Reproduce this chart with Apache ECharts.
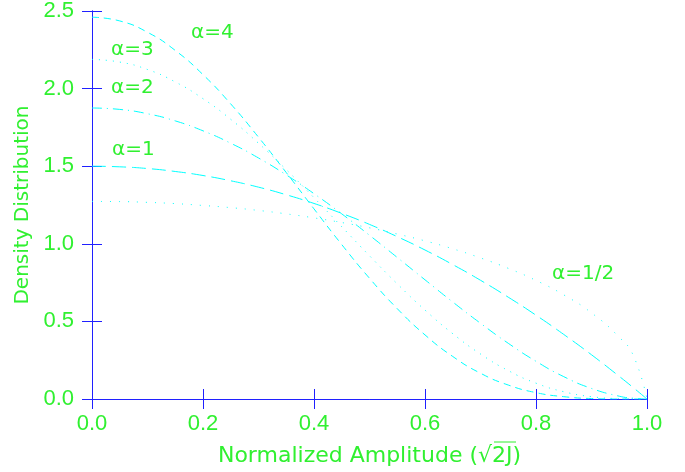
<!DOCTYPE html>
<html>
<head>
<meta charset="utf-8">
<script src="https://cdn.jsdelivr.net/npm/echarts@6/dist/echarts.min.js"></script>
<style>
  html, body { margin: 0; padding: 0; background: #fff; }
  #chart { width: 685px; height: 472px; }
</style>
</head>
<body>
<div id="chart"></div>
<script>
// normalized amplitude
const amp = [0, 0.05, 0.1, 0.15, 0.2, 0.25, 0.3, 0.35, 0.4, 0.45, 0.5,
  0.55, 0.6, 0.65, 0.7, 0.75, 0.8, 0.85, 0.9, 0.95, 0.975, 1.0];

// density
const alphaHalf = [1.273, 1.272, 1.267, 1.259, 1.247, 1.233, 1.215, 1.193, 1.167, 1.137, 1.103,
  1.063, 1.019, 0.968, 0.909, 0.842, 0.764, 0.671, 0.555, 0.398, 0.283, 0.0];
const alpha1 = [1.5, 1.496, 1.485, 1.466, 1.44, 1.406, 1.365, 1.316, 1.26, 1.196, 1.125,
  1.046, 0.96, 0.866, 0.765, 0.656, 0.54, 0.416, 0.285, 0.146, 0.074, 0.0];
const alpha2 = [1.875, 1.866, 1.838, 1.792, 1.728, 1.648, 1.553, 1.444, 1.323, 1.193, 1.055,
  0.912, 0.768, 0.625, 0.488, 0.359, 0.243, 0.144, 0.068, 0.018, 0.005, 0.0];
const alpha3 = [2.188, 2.171, 2.123, 2.043, 1.935, 1.802, 1.648, 1.478, 1.297, 1.110, 0.923,
  0.742, 0.573, 0.421, 0.290, 0.183, 0.102, 0.047, 0.015, 0.002, 0.0, 0.0];
const alpha4 = [2.460, 2.436, 2.363, 2.246, 2.090, 1.901, 1.687, 1.459, 1.225, 0.995, 0.778,
  0.582, 0.413, 0.274, 0.166, 0.090, 0.041, 0.015, 0.003, 0.0, 0.0, 0.0];

const labels = ['α=1/2', 'α=1', 'α=2', 'α=3', 'α=4'];

const green = '#30f030';
const blue = '#2020ff';
const cyan = '#00ffff';
const tickFont = 'Liberation Sans';
const textFont = 'DejaVu Sans';

const chart = echarts.init(document.getElementById('chart'));

const pairs = (ys) => amp.map((x, i) => [x, ys[i]]);

const mkSeries = (name, ys, dash) => ({
  name: name,
  type: 'line',
  smooth: true,
  showSymbol: false,
  xAxisIndex: 0,
  yAxisIndex: 0,
  lineStyle: { color: cyan, width: 1, type: dash },
  data: pairs(ys),
});

// shared axis look
const axisBase = {
  axisLine: { show: true, lineStyle: { color: blue, width: 1 } },
  axisTick: { show: true, inside: false, length: 10, lineStyle: { color: blue } },
  splitLine: { show: false },
};

const option = {
  animation: false,
  grid: { left: 92, right: 38, top: 11, bottom: 72 },
  xAxis: [
    {
      ...axisBase,
      type: 'value', position: 'bottom', min: 0, max: 1, interval: 0.2,
      axisLabel: { color: green, fontFamily: tickFont, fontSize: 22, margin: 14,
        formatter: (v) => v.toFixed(1) },
      name: 'Normalized Amplitude (√2J)',
      nameLocation: 'middle', nameGap: 46,
      nameTextStyle: { color: green, fontFamily: textFont, fontSize: 22 },
    },
    {
      ...axisBase,
      type: 'value', position: 'top', min: 0, max: 1, interval: 0.2,
      axisLabel: { show: false },
    },
  ],
  yAxis: [
    {
      ...axisBase,
      type: 'value', position: 'left', min: 0, max: 2.5, interval: 0.5,
      axisLabel: { color: green, fontFamily: tickFont, fontSize: 22, margin: 18,
        formatter: (v) => v.toFixed(1) },
      name: 'Density Distribution',
      nameLocation: 'middle', nameGap: 54,
      nameTextStyle: { color: green, fontFamily: textFont, fontSize: 20 },
    },
    {
      ...axisBase,
      type: 'value', position: 'right', min: 0, max: 2.5, interval: 0.5,
      axisLabel: { show: false },
    },
  ],
  series: [
    mkSeries(labels[0], alphaHalf, [1, 8]),
    mkSeries(labels[1], alpha1, [14, 6]),
    mkSeries(labels[2], alpha2, [10, 5, 1, 5]),
    mkSeries(labels[3], alpha3, [1, 6]),
    mkSeries(labels[4], alpha4, [7, 5]),
  ],
  graphic: [
    { type: 'text', left: 191, top: 23, style: { text: labels[4], fill: green, font: '20px ' + textFont } },
    { type: 'text', left: 111, top: 40, style: { text: labels[3], fill: green, font: '20px ' + textFont } },
    { type: 'text', left: 111, top: 78, style: { text: labels[2], fill: green, font: '20px ' + textFont } },
    { type: 'text', left: 112, top: 140, style: { text: labels[1], fill: green, font: '20px ' + textFont } },
    { type: 'text', left: 552, top: 264, style: { text: labels[0], fill: green, font: '20px ' + textFont } },
    // overline of the square root sign over "2J"
    { type: 'line', shape: { x1: 494, y1: 442, x2: 516, y2: 442 }, style: { stroke: green, lineWidth: 1 } },
  ],
};

chart.setOption(option);
</script>
</body>
</html>
